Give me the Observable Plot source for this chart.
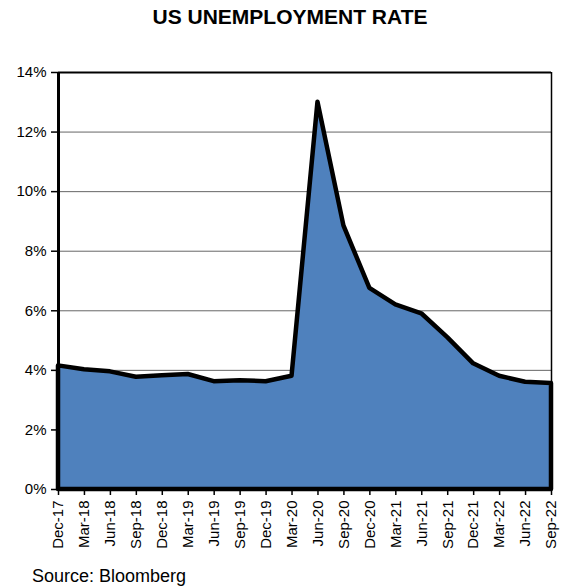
<!DOCTYPE html>
<html>
<head>
<meta charset="utf-8">
<script src="https://cdn.jsdelivr.net/npm/d3@7"></script>
<script src="https://cdn.jsdelivr.net/npm/@observablehq/plot@0.6"></script>
<style>
  body { margin: 0; background: #fff; font-family: "Liberation Sans", Arial, sans-serif; }
  #wrap { position: relative; width: 562px; height: 587px; overflow: hidden; }
  #title { position: absolute; left: 0; top: 0; width: 580px; text-align: center; font-weight: bold; font-size: 21px; line-height: 34px; color: #000; }
  #chart { position: absolute; left: 0; top: 40px; }
  #caption { position: absolute; left: 32px; top: 565px; font-size: 18px; line-height: 22px; color: #000; }
</style>
</head>
<body>
<div id="wrap">
  <div id="title">US UNEMPLOYMENT RATE</div>
  <div id="chart"></div>
  <div id="caption">Source: Bloomberg</div>
</div>
<script>
const quarters = ["Dec-17","Mar-18","Jun-18","Sep-18","Dec-18","Mar-19","Jun-19","Sep-19","Dec-19","Mar-20",
                  "Jun-20","Sep-20","Dec-20","Mar-21","Jun-21","Sep-21","Dec-21","Mar-22","Jun-22","Sep-22"];
const rates = [4.15,4.02,3.95,3.77,3.82,3.86,3.62,3.65,3.62,3.8,
               13.0,8.85,6.75,6.2,5.9,5.1,4.22,3.8,3.6,3.56];
const yTicks = [0,2,4,6,8,10,12,14];

const data = quarters.map((q, i) => ({i, q, v: rates[i]}));
const idx = quarters.map((q, i) => i);

const plot = Plot.plot({
  width: 562,
  height: 520,
  marginTop: 32,
  marginBottom: 71,
  marginLeft: 58,
  marginRight: 11,
  style: {fontFamily: '"Liberation Sans", Arial, sans-serif', fontSize: "15px", color: "#000", background: "#fff"},
  x: {type: "linear", domain: [0, quarters.length - 1]},
  y: {domain: [0, 14]},
  marks: [
    Plot.gridY(yTicks, {stroke: "#666", strokeOpacity: 1, strokeWidth: 1}),
    Plot.ruleY([14], {stroke: "#000", strokeWidth: 2}),
    Plot.ruleX([quarters.length - 1], {y1: 0, y2: 14, stroke: "#000", strokeWidth: 1.5}),
    Plot.ruleX([0], {y1: 0, y2: 14, stroke: "#000", strokeWidth: 3}),
    Plot.areaY(data, {x: "i", y: "v", fill: "#4F81BD", stroke: "#000", strokeWidth: 4.5, strokeLinejoin: "round"}),
    Plot.ruleY([0], {stroke: "#000", strokeWidth: 3}),
    Plot.axisY(yTicks, {tickFormat: d => d + "%", tickSize: 7, tickPadding: 5, fontSize: 15, stroke: "#000", strokeWidth: 1.5, label: null}),
    Plot.axisX(idx, {tickFormat: i => quarters[i], tickRotate: -90, tickSize: 6, tickPadding: 5, fontSize: 15, stroke: "#000", strokeWidth: 1.5, label: null})
  ]
});
document.getElementById("chart").appendChild(plot);
</script>
</body>
</html>
